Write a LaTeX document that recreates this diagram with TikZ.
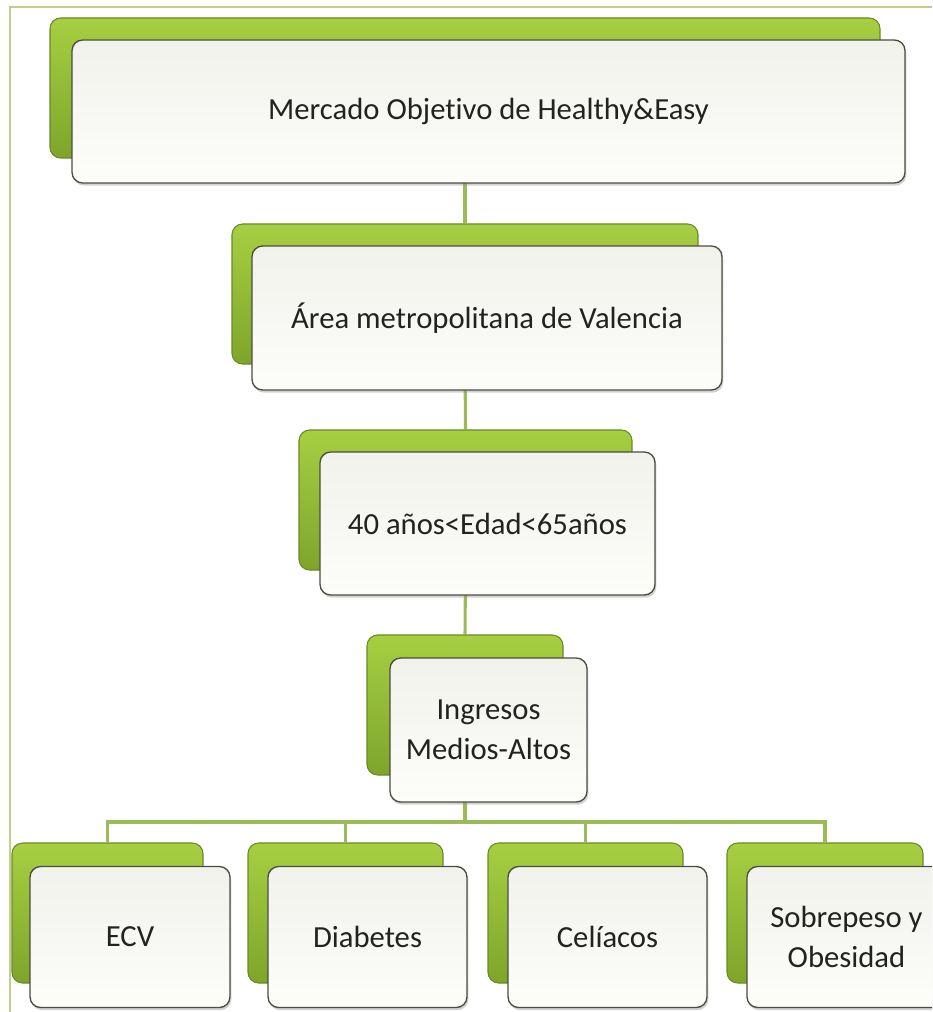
\documentclass[tikz,border=0pt]{standalone}
\usepackage{fontspec}
\setmainfont{Carlito}[Ligatures={NoCommon}]
\usetikzlibrary{shadows,backgrounds}
\definecolor{greentop}{HTML}{A6CF42}
\definecolor{greenbot}{HTML}{7EA52B}
\definecolor{greenedge}{HTML}{6A8A24}
\definecolor{frontedge}{HTML}{4B4D42}
\definecolor{fronttop}{HTML}{F1F2EC}
\definecolor{frontbot}{HTML}{FDFDFA}
\definecolor{linkgreen}{HTML}{9BBB59}
\definecolor{framegreen}{HTML}{BFD08E}
\definecolor{txt}{HTML}{222222}
\tikzset{
  boxwh/.style 2 args={minimum width=#1*0.75pt, minimum height=#2*0.75pt},
  back/.style={rectangle, rounded corners=8pt, inner sep=0pt,
    draw=greenedge, line width=0.8pt, top color=greentop, bottom color=greenbot},
  front/.style={rectangle, rounded corners=8pt, inner sep=0pt,
    draw=frontedge, line width=1pt, top color=fronttop, bottom color=frontbot,
    drop shadow={shadow xshift=1pt, shadow yshift=-2pt, opacity=0.35},
    align=center, text=txt, font=\fontsize{23pt}{30pt}\selectfont},
  link/.style={draw=linkgreen, line width=2.3pt},
  frameline/.style={draw=framegreen, line width=1.5pt}
}
\begin{document}
\begin{tikzpicture}[x=0.75pt, y=-0.75pt]
\clip (0,0) rectangle (932,1012);

% top tier
\node[back, boxwh={830}{140}] (g1) at (465,88) {};
\node[front, boxwh={833}{143}] (f1) at (488.5,111.5) {Mercado Objetivo de Healthy\&Easy};
% second tier
\node[back, boxwh={466}{140}] (g2) at (465,294) {};
\node[front, boxwh={470}{144}] (f2) at (487,318) {Área metropolitana de Valencia};
% third tier
\node[back, boxwh={333}{140}] (g3) at (465.5,500) {};
\node[front, boxwh={335}{143}] (f3) at (487.5,523.5) {40 años<Edad<65años};
% fourth tier
\node[back, boxwh={196}{140}] (g4) at (465,705) {};
\node[front, boxwh={197}{144}] (f4) at (488.5,730) {Ingresos\\Medios-Altos};

% bottom row
\node[back, boxwh={191}{140}] (g5) at (107.5,913) {};
\node[front, boxwh={200}{141}] (f5) at (130,937) {ECV};
\node[back, boxwh={195}{140}] (g6) at (345.5,913) {};
\node[front, boxwh={199}{141}] (f6) at (367.5,937) {Diabetes};
\node[back, boxwh={195}{140}] (g7) at (585.5,913) {};
\node[front, boxwh={199}{141}] (f7) at (607.5,937) {Celíacos};
\node[back, boxwh={196}{140}] (g8) at (825,913) {};
\node[front, boxwh={199}{141}] (f8) at (846.5,937) {Sobrepeso y\\Obesidad};

\coordinate (bus) at (465,822);

\begin{scope}[on background layer]
  \fill[white] (0,0) rectangle (932,1012);
  % outer frame
  \draw[frameline] (10,1012) -- (10,7) -- (932,7);
  % tree connectors
  \draw[link] (g1.south) -- (g2.north);
  \draw[link] (g2.south) -- (g3.north);
  \draw[link] (g3.south) -- (g4.north);
  \draw[link] (g4.south) |- (g5.north |- bus) -- (g5.north);
  \draw[link] (g4.south) |- (g6.north |- bus) -- (g6.north);
  \draw[link] (g4.south) |- (g7.north |- bus) -- (g7.north);
  \draw[link] (g4.south) |- (g8.north |- bus) -- (g8.north);
\end{scope}
\end{tikzpicture}
\end{document}
